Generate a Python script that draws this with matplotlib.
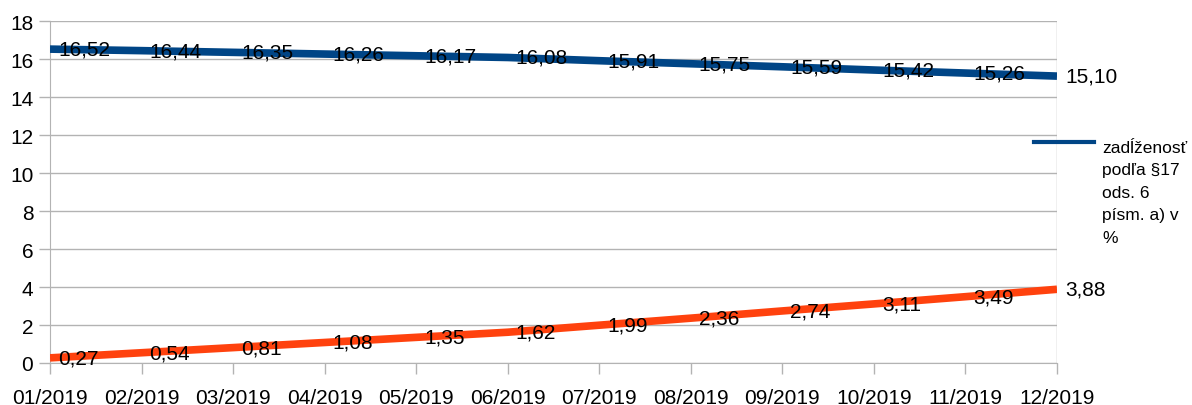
import matplotlib.pyplot as plt

plt.rcParams['font.family'] = ['Liberation Sans', 'DejaVu Sans']

months = ["01/2019", "02/2019", "03/2019", "04/2019", "05/2019", "06/2019",
          "07/2019", "08/2019", "09/2019", "10/2019", "11/2019", "12/2019"]
debt = [16.52, 16.44, 16.35, 16.26, 16.17, 16.08, 15.91, 15.75, 15.59, 15.42, 15.26, 15.10]
other = [0.27, 0.54, 0.81, 1.08, 1.35, 1.62, 1.99, 2.36, 2.74, 3.11, 3.49, 3.88]
legend_label = "zadĺženosť\npodľa §17\nods. 6\npísm. a) v\n%"

BLUE = "#004586"
ORANGE = "#ff420e"

fig = plt.figure(figsize=(11.92, 4.06), dpi=100)
ax = fig.add_axes([50 / 1192, 1 - 364 / 406, 1007 / 1192, 342 / 406])

x = list(range(len(months)))
ax.plot(x, debt, color=BLUE, lw=5.5, solid_capstyle="butt", zorder=3)
ax.plot(x, other, color=ORANGE, lw=5.5, solid_capstyle="butt", zorder=3)

def fmt(v):
    return f"{v:.2f}".replace(".", ",")

for xi, v in zip(x, debt):
    ax.annotate(fmt(v), (xi, v), xytext=(8, 0), textcoords="offset pixels",
                va="center", ha="left", fontsize=15, zorder=4, annotation_clip=False)
for xi, v in zip(x, other):
    ax.annotate(fmt(v), (xi, v), xytext=(8, 0), textcoords="offset pixels",
                va="center", ha="left", fontsize=15, zorder=4, annotation_clip=False)

ax.set_xlim(0, len(months) - 1)
ax.set_ylim(0, 18)
ax.set_yticks(range(0, 19, 2))
ax.set_xticks(x)
ax.set_xticklabels(months)
ax.tick_params(axis="both", labelsize=15, color="#b3b3b3", length=8, width=1)
ax.tick_params(axis="y", pad=4)
ax.tick_params(axis="x", pad=10)
ax.grid(axis="y", color="#b3b3b3", lw=1)
ax.set_axisbelow(True)
for side in ["top", "right"]:
    ax.spines[side].set_visible(False)
for side in ["left", "bottom"]:
    ax.spines[side].set_color("#b3b3b3")
# right edge line of plot area
ax.axvline(len(months) - 1, color="#b3b3b3", lw=1, zorder=1)

# legend (only the first series)
fig.lines.append(plt.Line2D([1034 / 1192, 1094 / 1192], [1 - 143 / 406, 1 - 143 / 406],
                            color=BLUE, lw=3, transform=fig.transFigure))
fig.text(1102 / 1192, 1 - 141 / 406, legend_label, fontsize=12.5, va="top", ha="left",
         linespacing=1.62)

fig.savefig("out.png", dpi=100)
